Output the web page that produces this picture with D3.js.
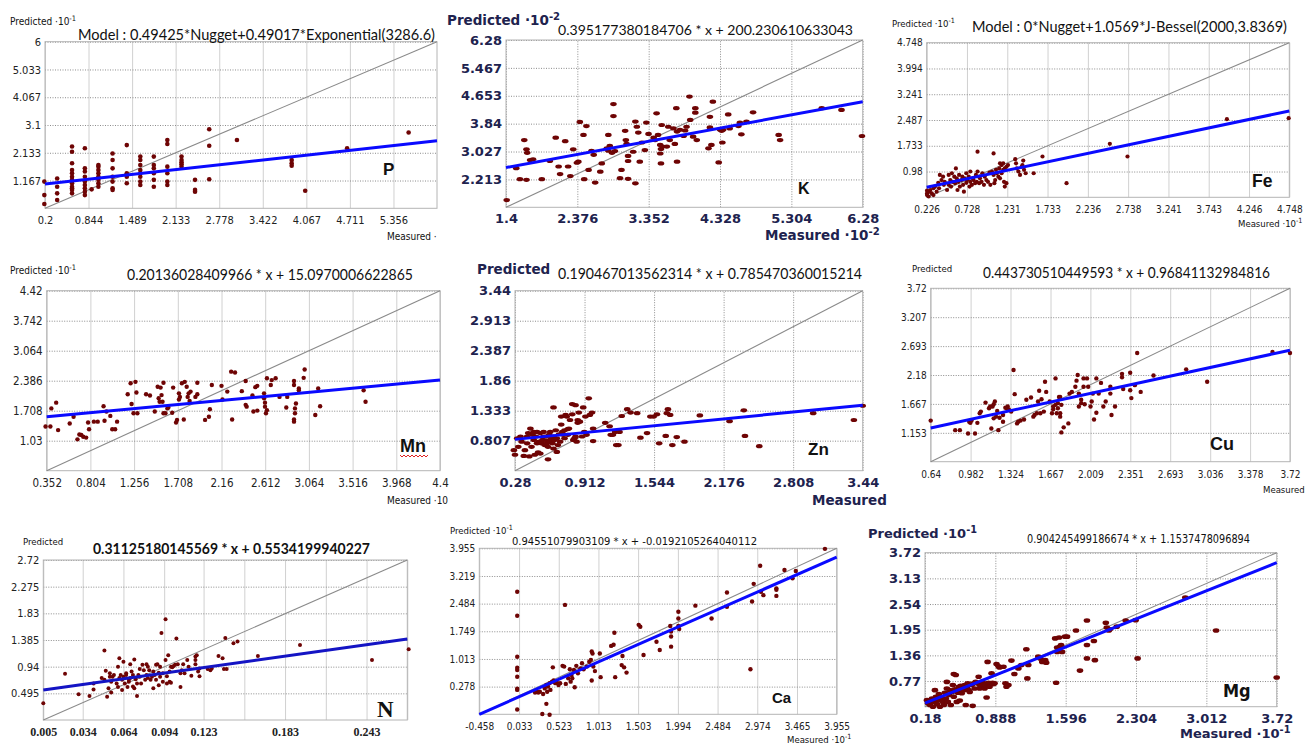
<!DOCTYPE html>
<html>
<head>
<meta charset="utf-8">
<script src="https://cdn.jsdelivr.net/npm/d3@7"></script>
<style>
body { margin: 0; background: #fff; }
svg { display: block; }
</style>
</head>
<body>
<script>
/* ---- P ---- */
var pXTicks = [0.2, 0.844, 1.489, 2.133, 2.778, 3.422, 4.067, 4.711, 5.356];
var pYTicks = [1.167, 2.133, 3.1, 4.067, 5.033, 6];
var pFit = [[0.2, 1.05], [6, 2.55]];
var pEquation = "Model : 0.49425*Nugget+0.49017*Exponential(3286.6)";
var pPoints = [[0.19,1.13],[0.19,0.66],[0.19,0.35],
  [0.38,1.24],[0.38,0.95],[0.38,0.72],[0.38,0.49],
  [0.6,2.35],[0.6,2.17],[0.6,1.77],[0.6,1.53],[0.6,1.42],[0.6,1.3],[0.6,1.19],[0.6,1.13],[0.6,1.07],[0.6,0.95],[0.6,0.9],[0.6,0.84],[0.6,0.72],
  [0.79,2.29],[0.79,1.59],[0.79,1.48],[0.79,1.3],[0.79,1.13],[0.79,1.01],[0.79,0.9],[0.79,0.78],[0.79,0.66],
  [0.89,0.86],
  [0.99,1.71],[0.99,1.65],[0.99,1.53],[0.99,1.42],[0.99,1.3],[0.99,1.19],[0.99,1.07],[0.99,0.95],
  [1.2,2.11],[1.2,1.88],[1.2,1.59],[1.2,1.3],[1.2,1.13],[1.2,0.9],[1.2,0.84],
  [1.41,2.4],[1.41,1.42],[1.41,1.36],[1.41,1.3],[1.41,1.07],
  [1.61,2.0],[1.61,1.88],[1.61,1.71],[1.61,1.53],[1.61,1.42],[1.61,1.3],[1.61,1.13],[1.61,1.01],
  [1.81,2.0],[1.81,1.71],[1.81,1.59],[1.81,1.42],[1.81,1.19],[1.81,0.95],
  [2.01,2.58],[2.01,2.44],[2.01,1.65],[2.01,1.42],[2.01,1.13],[2.01,1.01],
  [2.22,2.0],[2.22,1.88],[2.22,1.8],[2.22,1.73],[2.22,1.65],
  [2.42,1.19],[2.42,0.84],[2.42,0.78],
  [2.63,2.95],[2.63,2.38],[2.63,1.21],
  [3.04,2.58],[3.85,1.88],[3.85,1.77],[3.85,1.68],[4.05,0.81],[4.67,2.29],[5.58,2.84]];

/* ---- K ---- */
var kXTicks = [1.4, 2.376, 3.352, 4.328, 5.304, 6.28];
var kYTicks = [2.213, 3.027, 3.84, 4.653, 5.467, 6.28];
var kFit = [[1.4, 2.56], [6.28, 4.48]];
var kEquation = "0.395177380184706 * x + 200.230610633043";
var kPoints = [[1.41,1.61],[1.54,2.54],[1.59,2.22],[1.65,3.36],[1.68,2.2],[1.68,3.09],[1.69,2.99],[1.73,2.78],[1.77,2.8],[1.89,2.22],
  [2.0,2.75],[2.08,3.43],[2.12,2.59],[2.14,2.37],[2.21,3.33],[2.25,2.59],[2.28,2.31],[2.32,3.09],[2.37,2.7],[2.39,2.73],
  [2.41,3.89],[2.46,3.51],[2.47,2.22],[2.5,3.77],[2.53,2.49],[2.57,3.05],[2.6,2.93],[2.62,2.12],[2.69,2.44],[2.71,2.68],
  [2.78,3.12],[2.8,3.51],[2.8,3.05],[2.82,3.19],[2.85,2.99],[2.87,4.41],[2.87,4.06],[2.89,3.04],[2.96,2.25],[2.98,2.49],
  [3.03,3.63],[3.04,3.36],[3.05,3.25],[3.07,2.9],[3.07,2.75],[3.07,2.23],[3.14,3.02],[3.17,2.1],[3.17,3.9],[3.19,3.75],
  [3.21,3.58],[3.23,2.73],[3.26,3.29],[3.3,3.07],[3.32,3.87],[3.35,3.54],[3.42,3.43],[3.44,3.36],[3.46,4.14],[3.48,3.51],
  [3.51,2.97],[3.51,3.22],[3.52,3.1],[3.52,2.68],[3.53,3.8],[3.54,3.17],[3.6,3.17],[3.62,3.75],[3.64,3.36],[3.69,3.7],
  [3.71,3.25],[3.73,4.29],[3.74,3.61],[3.74,2.73],[3.78,3.66],[3.83,3.48],[3.85,3.64],[3.87,3.75],[3.91,4.63],[3.92,3.95],
  [3.96,3.46],[3.99,4.29],[3.99,4.16],[4.01,3.36],[4.17,3.12],[4.19,4.04],[4.19,3.73],[4.21,3.22],[4.23,4.48],[4.31,2.71],
  [4.33,3.66],[4.35,3.63],[4.36,3.29],[4.37,3.66],[4.44,4.11],[4.46,3.7],[4.58,3.77],[4.6,3.87],[4.62,3.53],[4.69,3.9],
  [4.78,4.17],[5.13,3.51],[5.15,3.36],[5.72,4.29],[5.99,4.24],[6.27,3.48]];

/* ---- Fe ---- */
var feXTicks = [0.226, 0.728, 1.231, 1.733, 2.236, 2.738, 3.241, 3.743, 4.246, 4.748];
var feYTicks = [0.98, 1.733, 2.487, 3.241, 3.994, 4.748];
var feFit = [[0.226, 0.52], [4.748, 2.75]];
var feEquation = "Model : 0*Nugget+1.0569*J-Bessel(2000,3.8369)";
var fePoints = [[0.23,0.34],[0.23,0.29],[0.25,0.25],[0.23,0.42],[0.26,0.39],[0.27,0.44],[0.29,0.34],[0.31,0.49],[0.31,0.29],[0.33,0.54],
  [0.35,0.39],[0.37,0.65],[0.38,0.49],[0.39,0.88],[0.41,0.73],[0.43,0.83],[0.44,0.59],[0.45,0.68],[0.48,0.44],[0.5,0.88],
  [0.5,0.59],[0.52,0.73],[0.53,0.54],[0.54,0.93],[0.55,0.68],[0.57,0.83],[0.58,0.64],[0.59,1.07],[0.6,0.78],[0.61,0.44],
  [0.62,0.68],[0.63,0.88],[0.64,0.54],[0.66,0.73],[0.67,0.83],[0.68,0.59],[0.69,0.39],[0.7,0.78],[0.72,0.65],[0.72,0.93],
  [0.73,0.73],[0.75,0.83],[0.76,0.54],[0.77,0.68],[0.77,0.98],[0.79,0.59],[0.8,0.78],[0.81,0.73],[0.83,0.64],[0.84,0.88],
  [0.85,0.68],[0.86,0.98],[0.88,0.64],[0.89,0.78],[0.91,0.68],[0.92,0.93],[0.94,0.59],[0.95,0.83],[0.97,0.73],[0.99,0.68],
  [1.01,0.95],[1.02,0.59],[1.04,0.98],[1.06,0.88],[1.07,0.64],[1.08,0.73],[1.09,1.03],[1.1,0.93],[1.12,0.83],[1.13,1.07],
  [1.14,0.78],[1.16,0.93],[1.18,1.03],[1.19,0.68],[1.2,0.54],[1.22,0.64],[0.86,1.56],[1.06,1.51],[1.14,1.22],[1.16,1.17],
  [1.18,1.22],[1.2,1.07],[1.22,1.12],[1.24,1.17],[1.33,1.34],[1.34,1.22],[1.35,1.07],[1.37,0.98],[1.39,0.88],[1.41,1.12],
  [1.42,1.17],[1.43,1.3],[1.44,1.03],[1.46,0.93],[1.56,0.93],[1.67,1.42],[1.97,0.64],[2.51,1.79],[2.73,1.42],[3.97,2.51],[4.74,2.54]];

/* ---- Mn ---- */
var mnXTicks = [0.352, 0.804, 1.256, 1.708, 2.16, 2.612, 3.064, 3.516, 3.968, 4.42];
var mnXText = ["0.352", "0.804", "1.256", "1.708", "2.16", "2.612", "3.064", "3.516", "3.968", "4.4"];
var mnYTicks = [1.03, 1.708, 2.386, 3.064, 3.742, 4.42];
var mnFit = [[0.352, 1.57], [4.42, 2.4]];
var mnEquation = "0.20136028409966 * x + 15.0970006622865";
var mnPoints = [[0.34,1.35],[0.39,1.35],[0.4,1.76],[0.45,1.89],[0.47,1.27],[0.59,1.42],[0.63,1.57],[0.67,1.06],[0.69,1.17],[0.71,1.16],
  [0.73,1.12],[0.76,1.1],[0.78,1.44],[0.79,1.29],[0.84,1.46],[0.88,1.46],[0.94,1.81],[0.95,1.48],[0.97,1.69],[1.01,1.59],
  [1.03,1.29],[1.06,1.29],[1.08,1.46],[1.19,2.08],[1.22,2.33],[1.23,1.86],[1.25,1.65],[1.27,2.36],[1.28,2.12],[1.29,1.65],
  [1.38,2.08],[1.42,2.05],[1.47,1.69],[1.5,2.25],[1.51,1.99],[1.52,1.91],[1.53,2.23],[1.54,2.06],[1.55,1.91],[1.56,2.34],
  [1.56,1.65],[1.58,1.65],[1.6,1.76],[1.61,1.78],[1.65,1.66],[1.66,2.23],[1.69,1.44],[1.7,1.5],[1.72,2.1],[1.72,1.96],
  [1.73,2.02],[1.75,2.33],[1.77,1.51],[1.78,2.36],[1.8,2.25],[1.81,2.02],[1.82,2.1],[1.83,1.93],[1.84,2.14],[1.89,2.02],
  [1.91,2.34],[1.91,2.08],[1.99,1.5],[2.03,1.57],[2.04,1.74],[2.06,2.29],[2.16,2.27],[2.17,1.96],[2.22,2.14],[2.26,2.59],
  [2.27,1.51],[2.3,2.57],[2.37,2.15],[2.41,2.38],[2.41,1.84],[2.42,1.8],[2.48,2.05],[2.49,1.69],[2.51,2.24],[2.53,2.27],
  [2.53,1.71],[2.6,2.1],[2.6,1.99],[2.61,1.89],[2.61,1.8],[2.62,1.65],[2.63,1.72],[2.63,2.44],[2.67,2.29],[2.68,2.4],
  [2.72,2.44],[2.76,2.02],[2.83,1.78],[2.84,2.02],[2.91,2.38],[2.91,2.29],[2.91,1.51],[2.91,1.46],[2.92,1.76],[2.92,1.65],
  [2.93,1.87],[2.96,2.21],[2.96,2.17],[3.01,2.45],[3.02,2.64],[3.13,1.61],[3.16,2.21],[3.18,1.81],[3.63,2.17],[3.65,1.91]];

/* ---- Zn ---- */
var znXTicks = [0.28, 0.912, 1.544, 2.176, 2.808, 3.44];
var znYTicks = [0.807, 1.333, 1.86, 2.387, 2.913, 3.44];
var znFit = [[0.28, 0.83], [3.44, 1.43]];
var znEquation = "0.190467013562314 * x + 0.785470360015214";
var znPoints = [[0.27,0.64],[0.28,0.56],[0.3,0.85],[0.31,0.7],[0.33,0.88],[0.34,0.79],[0.36,0.54],[0.37,0.64],[0.39,0.88],[0.39,0.76],
  [0.4,0.94],[0.41,0.53],[0.42,1.02],[0.43,0.7],[0.44,0.91],[0.45,0.82],[0.45,0.96],[0.46,0.56],[0.47,0.88],[0.48,0.76],
  [0.48,0.96],[0.49,0.6],[0.5,0.79],[0.51,0.94],[0.51,0.58],[0.52,0.76],[0.53,0.82],[0.54,0.88],[0.54,0.96],[0.55,0.73],
  [0.56,0.88],[0.57,0.76],[0.57,0.81],[0.58,0.48],[0.58,0.7],[0.59,0.91],[0.6,0.79],[0.6,0.96],[0.61,0.85],[0.62,0.76],
  [0.63,1.39],[0.63,0.67],[0.63,0.88],[0.64,0.82],[0.65,0.99],[0.66,0.61],[0.66,0.85],[0.67,0.73],[0.68,0.92],[0.69,0.79],
  [0.7,1.09],[0.7,1.23],[0.71,0.96],[0.72,0.91],[0.73,0.99],[0.73,0.85],[0.74,1.26],[0.75,1.23],[0.76,1.01],[0.76,0.91],
  [0.77,1.02],[0.78,1.17],[0.8,1.45],[0.8,1.27],[0.81,0.82],[0.82,0.85],[0.83,0.88],[0.83,1.43],[0.84,0.79],[0.85,1.17],
  [0.85,1.12],[0.86,1.3],[0.87,1.14],[0.89,0.88],[0.9,1.39],[0.91,0.96],[0.92,1.23],[0.93,0.91],[0.95,1.55],[0.96,1.26],
  [0.98,1.3],[0.99,1.02],[0.99,0.8],[1.1,1.12],[1.14,1.06],[1.15,0.91],[1.17,0.91],[1.19,0.96],[1.2,0.73],[1.22,0.73],
  [1.23,0.96],[1.25,1.24],[1.3,1.36],[1.33,1.3],[1.39,1.29],[1.42,0.86],[1.48,0.94],[1.51,1.23],[1.54,1.23],[1.57,1.27],
  [1.59,0.76],[1.65,0.89],[1.66,1.29],[1.67,1.36],[1.69,1.26],[1.71,0.73],[1.75,0.87],[1.82,0.79],[1.96,1.25],[2.23,1.15],
  [2.36,1.34],[2.37,0.89],[2.5,0.71],[2.99,1.29],[3.36,1.17],[3.44,1.42]];

/* ---- Cu ---- */
var cuXTicks = [0.64, 0.982, 1.324, 1.667, 2.009, 2.351, 2.693, 3.036, 3.378, 3.72];
var cuYTicks = [1.153, 1.667, 2.18, 2.693, 3.207, 3.72];
var cuFit = [[0.64, 1.24], [3.72, 2.62]];
var cuEquation = "0.443730510449593 * x + 0.96841132984816";
var cuPoints = [[0.64,1.37],[0.85,1.2],[0.89,1.2],[0.96,1.14],[0.97,1.35],[0.98,1.33],[0.99,1.37],[1.02,1.14],[1.04,1.33],[1.06,1.5],
  [1.07,1.53],[1.11,1.69],[1.14,1.59],[1.15,1.62],[1.16,1.23],[1.17,1.62],[1.18,1.41],[1.18,1.66],[1.19,1.71],[1.2,1.44],
  [1.21,1.54],[1.22,1.2],[1.23,1.42],[1.26,1.47],[1.26,1.35],[1.28,1.6],[1.29,1.59],[1.3,1.62],[1.31,1.57],[1.33,1.53],
  [1.35,2.27],[1.36,1.84],[1.38,1.32],[1.39,1.35],[1.41,1.37],[1.44,1.39],[1.46,1.74],[1.5,1.78],[1.52,1.44],[1.53,1.47],
  [1.55,1.5],[1.56,1.71],[1.57,1.9],[1.58,1.5],[1.59,1.75],[1.61,1.53],[1.62,2.06],[1.63,1.88],[1.66,1.71],[1.68,1.5],
  [1.69,1.57],[1.69,1.62],[1.71,1.65],[1.71,2.12],[1.72,1.5],[1.73,1.59],[1.73,1.68],[1.74,1.79],[1.75,1.44],[1.75,1.5],
  [1.75,1.79],[1.76,1.16],[1.76,1.65],[1.78,1.25],[1.82,1.32],[1.83,1.85],[1.85,1.88],[1.88,1.97],[1.89,2.08],[1.9,2.18],
  [1.91,1.62],[1.91,1.85],[1.93,1.68],[1.93,1.74],[1.95,2.12],[1.95,1.97],[1.96,1.66],[1.98,2.12],[1.99,1.97],[2.01,1.62],
  [2.02,1.71],[2.03,1.85],[2.04,1.39],[2.06,1.51],[2.06,2.12],[2.08,1.85],[2.1,2.04],[2.12,1.62],[2.14,1.71],[2.18,1.97],
  [2.18,1.85],[2.19,1.47],[2.22,1.62],[2.28,2.2],[2.28,2.14],[2.29,1.93],[2.35,1.91],[2.35,2.22],[2.36,1.77],[2.39,2.0],
  [2.41,2.57],[2.44,1.88],[2.55,2.17],[2.83,2.28],[3.01,2.06],[3.57,2.59],[3.72,2.57]];

/* ---- N ---- */
var nXTicks = [0.005, 0.034, 0.064, 0.094, 0.123, 0.153, 0.183, 0.213, 0.243, 0.273];
var nXText = ["0.005", "0.034", "0.064", "0.094", "0.123", "", "0.183", "", "0.243", ""];
var nYTicks = [0.495, 0.94, 1.385, 1.83, 2.275, 2.72];
var nFit = [[0.005, 0.55], [0.273, 1.4]];
var nEquation = "0.31125180145569 * x + 0.5534199940227";
var nPoints = [[0.005,0.33],[0.021,0.82],[0.031,0.48],[0.039,0.45],[0.042,0.56],[0.042,0.66],[0.048,0.75],[0.05,1.21],[0.05,0.72],[0.051,0.87],
  [0.052,0.44],[0.053,0.58],[0.054,0.83],[0.054,0.77],[0.055,0.69],[0.055,0.51],[0.056,0.77],[0.057,0.8],[0.059,0.66],[0.06,0.94],
  [0.06,0.6],[0.061,1.08],[0.061,0.75],[0.062,0.8],[0.063,0.55],[0.063,0.72],[0.064,1.02],[0.064,0.77],[0.065,0.66],[0.066,0.8],
  [0.066,0.83],[0.067,0.6],[0.068,0.69],[0.068,0.72],[0.069,0.98],[0.069,0.75],[0.07,0.86],[0.071,0.61],[0.071,0.8],[0.072,0.58],
  [0.072,1.06],[0.073,0.73],[0.074,0.66],[0.074,0.45],[0.075,0.8],[0.076,0.77],[0.076,0.9],[0.077,0.66],[0.078,0.97],[0.079,0.88],
  [0.08,0.72],[0.081,0.8],[0.081,0.98],[0.082,0.94],[0.082,0.75],[0.083,0.88],[0.084,0.72],[0.085,0.77],[0.086,0.58],[0.086,0.86],
  [0.087,0.8],[0.088,0.72],[0.088,0.97],[0.089,0.98],[0.09,0.84],[0.09,0.63],[0.091,0.94],[0.091,0.77],[0.092,1.5],[0.093,0.83],
  [0.093,0.69],[0.095,1.05],[0.095,1.73],[0.096,0.78],[0.096,0.66],[0.097,1.13],[0.098,0.86],[0.098,0.69],[0.099,0.67],[0.099,0.94],
  [0.1,0.93],[0.101,0.95],[0.102,0.97],[0.103,1.41],[0.104,0.98],[0.106,0.83],[0.106,0.6],[0.107,0.88],[0.108,0.98],[0.109,0.83],
  [0.111,1.05],[0.112,0.94],[0.114,0.79],[0.117,1.11],[0.117,1.05],[0.117,0.98],[0.118,1.13],[0.119,0.86],[0.12,0.78],[0.12,0.91],
  [0.126,0.9],[0.128,0.88],[0.129,0.91],[0.134,1.12],[0.137,1.08],[0.138,0.9],[0.139,1.42],[0.14,0.9],[0.145,1.33],[0.148,1.36],
  [0.163,1.12],[0.194,1.3],[0.247,1.05],[0.274,1.23]];

/* ---- Ca ---- */
var caXTicks = [-0.458, 0.033, 0.523, 1.013, 1.503, 1.994, 2.484, 2.974, 3.465, 3.955];
var caYTicks = [0.278, 1.013, 1.749, 2.484, 3.219, 3.955];
var caFit = [[-0.458, -0.458], [3.955, 3.72]];
var caEquation = "0.94551079903109 * x + -0.0192105264040112";
var caPoints = [[0.01,2.8],[0.01,2.16],[0.01,1.07],[0.01,0.78],[0.01,0.72],[0.01,0.54],[0.01,0.22],[0.01,0.19],[0.01,-0.33],[0.23,0.12],
  [0.25,0.14],[0.27,0.12],[0.29,0.14],[0.32,-0.45],[0.33,0.08],[0.35,0.23],[0.37,-0.18],[0.37,0.32],[0.38,0.14],[0.39,0.28],
  [0.41,-0.47],[0.41,0.37],[0.42,0.19],[0.44,0.41],[0.45,0.79],[0.46,0.44],[0.48,0.37],[0.5,0.38],[0.52,0.32],[0.54,0.37],
  [0.57,0.83],[0.59,0.81],[0.6,2.45],[0.61,0.35],[0.64,0.5],[0.66,0.74],[0.67,0.41],[0.68,0.59],[0.69,0.5],[0.71,0.72],
  [0.72,0.26],[0.74,0.83],[0.76,0.63],[0.79,0.76],[0.81,0.9],[0.83,0.74],[0.87,0.81],[0.9,0.94],[0.92,0.99],[0.93,0.44],
  [0.93,1.21],[0.94,1.16],[0.95,0.81],[0.97,0.69],[1.03,1.16],[1.04,0.53],[1.17,1.36],[1.2,1.39],[1.21,1.71],[1.22,0.53],
  [1.31,1.09],[1.3,0.85],[1.33,0.79],[1.36,0.65],[1.51,1.92],[1.53,1.87],[1.57,1.12],[1.73,1.47],[1.77,1.25],[1.9,1.89],
  [1.91,1.74],[1.91,1.61],[1.91,1.34],[2.0,2.27],[2.0,2.09],[2.0,1.89],[2.01,1.81],[2.21,2.43],[2.41,2.09],[2.6,2.78],
  [2.6,2.4],[2.91,2.54],[2.93,3.01],[2.89,0.74],[3.01,3.49],[3.02,2.8],[3.05,2.71],[3.21,2.89],[3.21,2.85],[3.21,2.69],
  [3.31,3.38],[3.41,3.16],[3.45,3.35],[3.81,3.94]];

/* ---- Mg ---- */
var mgXTicks = [0.18, 0.888, 1.596, 2.304, 3.012, 3.72];
var mgYTicks = [0.77, 1.36, 1.95, 2.54, 3.13, 3.72];
var mgFit = [[0.18, 0.26], [3.72, 3.49]];
var mgEquation = "0.904245499186674 * x + 1.1537478096894";
var mgPoints = [[0.2,0.33],[0.21,0.26],[0.22,0.29],[0.23,0.22],[0.25,0.37],[0.26,0.18],[0.27,0.29],[0.28,0.56],[0.29,0.41],[0.3,0.24],
  [0.31,0.33],[0.32,0.47],[0.33,0.18],[0.35,0.37],[0.36,0.29],[0.37,0.22],[0.38,0.5],[0.39,0.37],[0.4,0.6],[0.4,0.75],
  [0.41,0.29],[0.42,0.45],[0.43,0.56],[0.44,0.22],[0.45,0.52],[0.46,0.68],[0.47,0.93],[0.47,0.41],[0.48,0.58],[0.49,0.91],
  [0.5,0.29],[0.51,0.5],[0.52,0.64],[0.53,0.32],[0.53,0.56],[0.54,0.66],[0.55,0.49],[0.56,0.64],[0.57,0.56],[0.58,0.68],
  [0.59,0.22],[0.6,0.62],[0.61,0.72],[0.62,0.56],[0.63,0.52],[0.65,0.68],[0.66,0.2],[0.67,0.72],[0.68,0.6],[0.69,0.75],
  [0.71,0.72],[0.72,0.87],[0.73,0.68],[0.73,0.6],[0.75,0.75],[0.77,0.68],[0.77,0.72],[0.78,0.6],[0.79,0.68],[0.8,0.39],
  [0.81,1.21],[0.82,0.73],[0.83,0.64],[0.85,0.95],[0.86,0.73],[0.87,0.7],[0.88,0.72],[0.9,1.16],[0.92,1.11],[0.93,1.08],
  [0.97,1.1],[0.99,0.72],[1.0,0.64],[1.02,0.68],[1.05,1.24],[1.08,0.93],[1.12,1.06],[1.15,1.14],[1.2,1.5],[1.21,0.83],
  [1.22,1.14],[1.32,1.33],[1.34,1.29],[1.36,1.21],[1.39,1.25],[1.4,1.19],[1.49,1.75],[1.5,0.73],[1.51,1.54],[1.51,1.44],
  [1.53,1.77],[1.54,1.56],[1.55,1.6],[1.56,1.44],[1.59,1.79],[1.61,1.79],[1.7,1.93],[1.74,1.01],[1.81,2.16],[1.81,1.6],
  [1.81,1.29],[1.88,1.69],[1.89,1.25],[2.0,2.11],[2.01,2.0],[2.03,1.93],[2.04,1.96],[2.11,2.02],[2.2,2.16],[2.3,2.17],
  [2.32,1.29],[2.8,2.69],[3.11,1.93],[3.72,0.85]];

/* ---- drawing ---- */
var NARROW = '"Liberation Sans Narrow","Arial Narrow","DejaVu Sans Condensed",sans-serif';
var VERD = '"DejaVu Sans",Verdana,sans-serif';
var SANS = '"Liberation Sans",Arial,sans-serif';
var EQ = 'Lato,"Open Sans",sans-serif';
var SERIF = '"Liberation Serif","Times New Roman",serif';
var NAVY = "#20224e";

var panels = [
  { box: [45, 41.7, 437, 208.3], xDom: [0.2, 6], yDom: [0.2, 6], xTicks: pXTicks, yTicks: pYTicks,
    points: pPoints, fit: pFit, font: NARROW, size: 11, weight: "normal", color: "#222", dot: [2.3, 2.3],
    labels: [
      { text: "Predicted ·10", sup: "-1", x: 10, y: 25, size: 10, font: NARROW },
      { text: "Measured ·", x: 387, y: 240, size: 10, font: NARROW },
      { text: pEquation, x: 78, y: 39.5, size: 15, font: EQ, w: 357 },
      { text: "P", x: 383, y: 175, size: 17, font: SANS, weight: "bold" }] },
  { box: [506, 40, 862.7, 207.3], xDom: [1.4, 6.28], yDom: [1.4, 6.28], xTicks: kXTicks, yTicks: kYTicks,
    points: kPoints, fit: kFit, font: VERD, size: 13, weight: "bold", color: NAVY, dot: [3.3, 2.1], vDot: true,
    labels: [
      { text: "Predicted ·10", sup: "-2", x: 447, y: 25, size: 13.5, font: VERD, weight: "bold", color: NAVY },
      { text: "Measured ·10", sup: "-2", x: 765, y: 240, size: 13.5, font: VERD, weight: "bold", color: NAVY },
      { text: kEquation, x: 558, y: 35, size: 14, font: EQ, w: 295 },
      { text: "K", x: 798, y: 194, size: 16, font: SANS, weight: "bold" }] },
  { box: [926.7, 42.7, 1289.3, 197.3], xDom: [0.226, 4.748], yDom: [0.226, 4.748], xTicks: feXTicks, yTicks: feYTicks,
    points: fePoints, fit: feFit, font: NARROW, size: 10, weight: "normal", color: "#222", dot: [2.1, 2.1],
    labels: [
      { text: "Predicted ·10", sup: "-1", x: 892, y: 27, size: 9.5, font: NARROW },
      { text: "Measured ·10", sup: "-1", x: 1238, y: 227, size: 9.5, font: NARROW },
      { text: feEquation, x: 972, y: 31.5, size: 15.5, font: EQ, w: 315 },
      { text: "Fe", x: 1252, y: 187, size: 17.5, font: SANS, weight: "bold" }] },
  { box: [46.7, 290.7, 440, 470.7], xDom: [0.352, 4.42], yDom: [0.352, 4.42], xTicks: mnXTicks, xText: mnXText, yTicks: mnYTicks,
    points: mnPoints, fit: mnFit, font: NARROW, size: 11.5, weight: "normal", color: "#222", dot: [2.2, 2.2],
    labels: [
      { text: "Predicted ·10", sup: "-1", x: 10, y: 274, size: 10, font: NARROW },
      { text: "Measured ·10", x: 387, y: 504, size: 10, font: NARROW },
      { text: mnEquation, x: 127, y: 280, size: 14.5, font: EQ, w: 286 },
      { text: "Mn", x: 400, y: 452, size: 18, font: SANS, weight: "bold", wavy: 28 }] },
  { box: [515, 290.7, 862.7, 470.7], xDom: [0.28, 3.44], yDom: [0.28, 3.44], xTicks: znXTicks, yTicks: znYTicks,
    points: znPoints, fit: znFit, font: VERD, size: 13, weight: "bold", color: NAVY, dot: [3.3, 2.1], vDot: true,
    labels: [
      { text: "Predicted", x: 477, y: 274, size: 13.5, font: VERD, weight: "bold", color: NAVY },
      { text: "Measured", x: 812, y: 505, size: 13.5, font: VERD, weight: "bold", color: NAVY },
      { text: znEquation, x: 558, y: 279, size: 14.5, font: EQ, w: 304 },
      { text: "Zn", x: 808, y: 455, size: 17, font: SANS, weight: "bold" }] },
  { box: [930.7, 288.3, 1290, 461.7], xDom: [0.64, 3.72], yDom: [0.64, 3.72], xTicks: cuXTicks, yTicks: cuYTicks,
    points: cuPoints, fit: cuFit, font: NARROW, size: 10, weight: "normal", color: "#222", dot: [2.2, 2.2],
    labels: [
      { text: "Predicted", x: 912, y: 272, size: 9.5, font: NARROW },
      { text: "Measured", x: 1263, y: 493, size: 9.5, font: NARROW },
      { text: cuEquation, x: 983, y: 278, size: 14.5, font: EQ, w: 287 },
      { text: "Cu", x: 1210, y: 450, size: 18, font: SANS, weight: "bold" }] },
  { box: [43.3, 560, 407.3, 720], xDom: [0.005, 0.273], yDom: [0.05, 2.72], xTicks: nXTicks, xText: nXText, yTicks: nYTicks,
    points: nPoints, fit: nFit, font: NARROW, size: 11, weight: "normal", color: "#222", dot: [2, 2],
    xFont: SERIF, xSize: 12, xWeight: "bold", fitColor: "#1414c4",
    labels: [
      { text: "Predicted", x: 23, y: 545, size: 9.5, font: NARROW },
      { text: nEquation, x: 93, y: 554, size: 14.5, font: EQ, weight: "bold", w: 277 },
      { text: "N", x: 377, y: 717, size: 23, font: SERIF, weight: "bold" }] },
  { box: [479.3, 548.3, 836.7, 714.3], xDom: [-0.458, 3.955], yDom: [-0.458, 3.955], xTicks: caXTicks, yTicks: caYTicks,
    points: caPoints, fit: caFit, font: NARROW, size: 10, weight: "normal", color: "#222", dot: [2.2, 2.2],
    labels: [
      { text: "Predicted ·10", sup: "-1", x: 450, y: 534, size: 9.5, font: NARROW },
      { text: "Measured ·10", sup: "-1", x: 787, y: 743, size: 9.5, font: NARROW },
      { text: caEquation, x: 512, y: 545, size: 11, font: NARROW, w: 245 },
      { text: "Ca", x: 772, y: 703, size: 15, font: SANS, weight: "bold" }] },
  { box: [925, 552.7, 1276.7, 706.7], xDom: [0.18, 3.72], yDom: [0.18, 3.72], xTicks: mgXTicks, yTicks: mgYTicks,
    points: mgPoints, fit: mgFit, font: VERD, size: 13, weight: "bold", color: NAVY, dot: [3.3, 2.3], vDot: true,
    labels: [
      { text: "Predicted ·10", sup: "-1", x: 868, y: 538, size: 13, font: VERD, weight: "bold", color: NAVY },
      { text: "Measured ·10", sup: "-1", x: 1180, y: 738, size: 13, font: VERD, weight: "bold", color: NAVY },
      { text: mgEquation, x: 1027, y: 543, size: 11.5, font: NARROW, w: 223 },
      { text: "Mg", x: 1223, y: 697, size: 18, font: NARROW, weight: "bold" }] }
];

var svg = d3.select("body").append("svg").attr("width", 1311).attr("height", 747);

function addLabel(t) {
  var el = svg.append("text")
    .attr("x", t.x).attr("y", t.y)
    .attr("font-family", t.font).attr("font-size", t.size)
    .attr("font-weight", t.weight || "normal")
    .attr("fill", t.color || "#111")
    .text(t.text);
  if (t.sup) {
    el.append("tspan").attr("dy", -t.size * 0.4).attr("font-size", t.size * 0.75).text(t.sup);
  }
  if (t.w) el.attr("textLength", t.w).attr("lengthAdjust", "spacingAndGlyphs");
  if (t.wavy) {
    // spell-check squiggle under the label
    var pts = [];
    for (var i = 0; i <= t.wavy; i += 2) pts.push([t.x + i, t.y + 3 + (i % 4 === 0 ? 0 : 2)]);
    svg.append("path").attr("d", d3.line()(pts)).attr("fill", "none").attr("stroke", "#e02020").attr("stroke-width", 1);
  }
}

function drawPanel(p) {
  var b = p.box;
  var w = b[2] - b[0], h = b[3] - b[1];
  var x = d3.scaleLinear().domain(p.xDom).range([b[0], b[2]]);
  var y = d3.scaleLinear().domain(p.yDom).range([b[3], b[1]]);
  var g = svg.append("g");

  // vertical grid
  var vg = g.append("g").attr("transform", "translate(0," + b[3] + ")")
    .call(d3.axisBottom(x).tickValues(p.xTicks).tickSize(-h).tickFormat(""));
  vg.select(".domain").remove();
  vg.selectAll("line").attr("stroke", p.vDot ? "#8c8c8c" : "#d0d0d0")
    .attr("stroke-dasharray", p.vDot ? "1,1.5" : null);

  // horizontal grid
  var hg = g.append("g").attr("transform", "translate(" + b[0] + ",0)")
    .call(d3.axisLeft(y).tickValues(p.yTicks).tickSize(-w).tickFormat(""));
  hg.select(".domain").remove();
  hg.selectAll("line").attr("stroke", "#8c8c8c").attr("stroke-dasharray", "1,1.5");

  g.append("rect").attr("x", b[0]).attr("y", b[1]).attr("width", w).attr("height", h)
    .attr("fill", "none").attr("stroke", "#b4b4b4");

  // 1:1 reference line corner to corner
  g.append("path")
    .datum([[p.xDom[0], p.yDom[0]], [p.xDom[1], p.yDom[1]]])
    .attr("d", d3.line().x(function(d) { return x(d[0]); }).y(function(d) { return y(d[1]); }))
    .attr("stroke", "#8a8a8a").attr("stroke-width", 1.1).attr("fill", "none");

  g.selectAll("ellipse.pt").data(p.points).join("ellipse")
    .attr("class", "pt")
    .attr("cx", function(d) { return x(d[0]); })
    .attr("cy", function(d) { return y(d[1]); })
    .attr("rx", p.dot[0]).attr("ry", p.dot[1])
    .attr("fill", "#6e0404");

  g.append("path").datum(p.fit)
    .attr("d", d3.line().x(function(d) { return x(d[0]); }).y(function(d) { return y(d[1]); }))
    .attr("stroke", p.fitColor || "#0a0aff").attr("stroke-width", 3).attr("fill", "none");

  // tick labels
  var xs = p.xSize || p.size;
  var xa = g.append("g").attr("transform", "translate(0," + b[3] + ")")
    .call(d3.axisBottom(x).tickValues(p.xTicks).tickSize(0).tickPadding(16 - 0.71 * xs)
      .tickFormat(function(d, i) { return p.xText ? p.xText[i] : String(d); }));
  xa.select(".domain").remove();
  xa.attr("font-family", p.xFont || p.font).attr("font-size", xs)
    .attr("font-weight", p.xWeight || p.weight);
  xa.selectAll("text").attr("fill", p.color);

  var ya = g.append("g").attr("transform", "translate(" + b[0] + ",0)")
    .call(d3.axisLeft(y).tickValues(p.yTicks).tickSize(0).tickPadding(4)
      .tickFormat(function(d) { return String(d); }));
  ya.select(".domain").remove();
  ya.attr("font-family", p.font).attr("font-size", p.size).attr("font-weight", p.weight);
  ya.selectAll("text").attr("fill", p.color);

  p.labels.forEach(addLabel);
}

panels.forEach(drawPanel);
</script>
</body>
</html>
